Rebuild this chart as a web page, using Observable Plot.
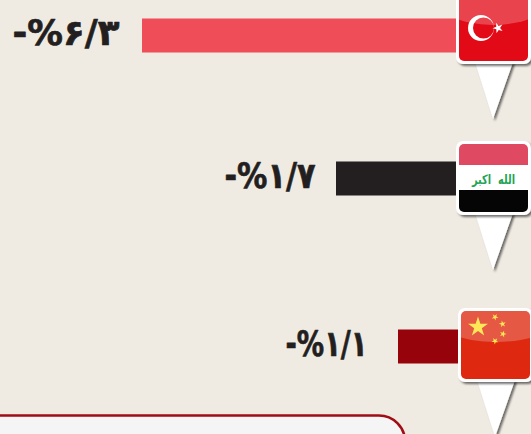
<!DOCTYPE html>
<html lang="fa">
<head>
<meta charset="utf-8">
<style>
html,body{margin:0;padding:0;background:#efeae2;overflow:hidden}
svg{display:block}
</style>
<script src="https://cdn.jsdelivr.net/npm/d3@7"></script>
<script src="https://cdn.jsdelivr.net/npm/@observablehq/plot@0.6"></script>
</head>
<body>
<script>
const countries = ["Turkey", "Iraq", "China"];
const values = [6.3, 1.7, 1.1];
const labels = ["-%۶/۳", "-%۱/۷", "-%۱/۱"];
const barColors = ["#ef4d58", "#231f20", "#96030b"];
const ranks = [1, 2, 3];

const labelGaps = [23, 21, 31];
const labelWidths = [107, 91, 82];
const pinLeft = [456, 456, 458];
const pinTop = [-10, 141, 308];
const pinW = 75, pinH = 74;

const rows = countries.map((country, i) => ({country, value: values[i], label: labels[i], color: barColors[i], rank: ranks[i], gap: labelGaps[i], width: labelWidths[i]}));

// the original infographic's bars are not drawn to one linear rule, so its x and y are piecewise
const xPiece = d3.scaleLinear().domain([0, 1.1, 1.7, 6.3]).range([459, 398, 336, 142]);
const yPiece = d3.scaleLinear().domain(ranks).range([35, 178, 346]);

function starPath(cx, cy, r, rot = -90) {
  const p = [];
  for (let i = 0; i < 10; i++) {
    const a = (rot + i * 36) * Math.PI / 180, q = i % 2 ? r * 0.38 : r;
    p.push([cx + q * Math.cos(a), cy + q * Math.sin(a)]);
  }
  return "M" + p.map(d => d.join(",")).join("L") + "Z";
}

function pins() {
  const svg = d3.create("svg:g");
  const defs = svg.append("defs");
  const f = defs.append("filter").attr("id", "sh").attr("x", "-20%").attr("y", "-20%").attr("width", "150%").attr("height", "150%");
  f.append("feDropShadow").attr("dx", 2).attr("dy", 2).attr("stdDeviation", 1.3).attr("flood-color", "#000").attr("flood-opacity", .55);

  // callout panel cut by the bottom of the picture
  svg.append("rect").attr("x", -30).attr("y", 415.5).attr("width", 435).attr("height", 60).attr("rx", 26)
    .attr("fill", "#f5f5f5").attr("stroke", "#a00d14").attr("stroke-width", 2.6);

  countries.forEach((c, i) => {
    const g = svg.append("g").attr("transform", `translate(${pinLeft[i]},${pinTop[i]})`);
    g.append("path").attr("d", `M19,${pinH - 2}L57,${pinH - 2}L37,${pinH + 55}Z`).attr("fill", "#fff").attr("filter", "url(#sh)");
    g.append("rect").attr("width", pinW).attr("height", pinH).attr("rx", 7).attr("fill", "#fff").attr("filter", "url(#sh)");
    const id = "clip" + i;
    defs.append("clipPath").attr("id", id).append("rect").attr("x", 3).attr("y", 3).attr("width", pinW - 6).attr("height", pinH - 6).attr("rx", 5);
    const fl = g.append("g").attr("clip-path", `url(#${id})`);
    if (c === "Turkey") {
      fl.append("rect").attr("width", pinW).attr("height", pinH).attr("fill", "#e30a17");
      fl.append("path").attr("fill", "#fff").attr("fill-rule", "evenodd")
        .attr("d", "M12,38a13,13 0 1,0 26,0a13,13 0 1,0 -26,0Z M17,38a10.5,10.5 0 1,0 21,0a10.5,10.5 0 1,0 -21,0Z");
      fl.append("path").attr("d", starPath(42, 38, 5.5, -110)).attr("fill", "#fff");
      fl.append("ellipse").attr("cx", 37).attr("cy", 3).attr("rx", 62).attr("ry", 32).attr("fill", "#fff").attr("opacity", .24);
    } else if (c === "Iraq") {
      fl.append("rect").attr("width", pinW).attr("height", 25).attr("fill", "#df4a62");
      fl.append("rect").attr("y", 24).attr("width", pinW).attr("height", 26).attr("fill", "#fff");
      fl.append("rect").attr("y", 49).attr("width", pinW).attr("height", 26).attr("fill", "#050505");
      fl.append("text").attr("class", "flag-text").attr("x", 37.5).attr("y", 43).attr("text-anchor", "middle").attr("font-family", "DejaVu Sans")
        .attr("font-weight", "bold").attr("font-size", 13).attr("fill", "#22a455").style("direction", "rtl")
        .attr("textLength", 43).attr("lengthAdjust", "spacingAndGlyphs").text("الله  اكبر");
    } else {
      fl.append("rect").attr("width", pinW).attr("height", pinH).attr("fill", "#de2910");
      fl.append("path").attr("d", starPath(20, 19, 10.5)).attr("fill", "#ffe02a");
      [[37, 9, 3.6, -60], [44.5, 16, 3.6, -30], [45, 26, 3.6, 0], [37, 33, 3.6, -50]].forEach(([x, y, r, a]) =>
        fl.append("path").attr("d", starPath(x, y, r, a)).attr("fill", "#ffe02a"));
      fl.append("ellipse").attr("cx", 38).attr("cy", 7).attr("rx", 64).attr("ry", 27).attr("fill", "#fff").attr("opacity", .22);
    }
  });
  return svg.node();
}

const chart = Plot.plot({
  width: 531,
  height: 434,
  margin: 0,
  style: {background: "#efeae2"},
  x: {transform: xPiece, domain: [0, 531], range: [0, 531], axis: null},
  y: {transform: yPiece, domain: [0, 434], range: [0, 434], axis: null},
  marks: [
    Plot.ruleY(rows, {y: "rank", x1: 0, x2: "value", stroke: "color", strokeWidth: 34}),
    ...rows.map(r => Plot.text([r], {
      x: "value", y: "rank", text: "label", dx: -r.gap, dy: -2,
      textAnchor: "end", fontFamily: "DejaVu Sans", fontWeight: "bold", fontSize: 36, fill: "#231f20",
      stroke: "#231f20", strokeWidth: 0.7, lineAnchor: "middle",
      render(index, scales, values, dims, ctx, next) {
        const g = next(index, scales, values, dims, ctx);
        g.querySelectorAll("text").forEach(t => {
          t.setAttribute("textLength", r.width);
          t.setAttribute("lengthAdjust", "spacingAndGlyphs");
        });
        return g;
      }
    })),
    pins
  ]
});
chart.querySelectorAll("text:not(.flag-text)").forEach(t => { t.style.unicodeBidi = "bidi-override"; t.style.direction = "ltr"; });
document.body.append(chart);
</script>
</body>
</html>
